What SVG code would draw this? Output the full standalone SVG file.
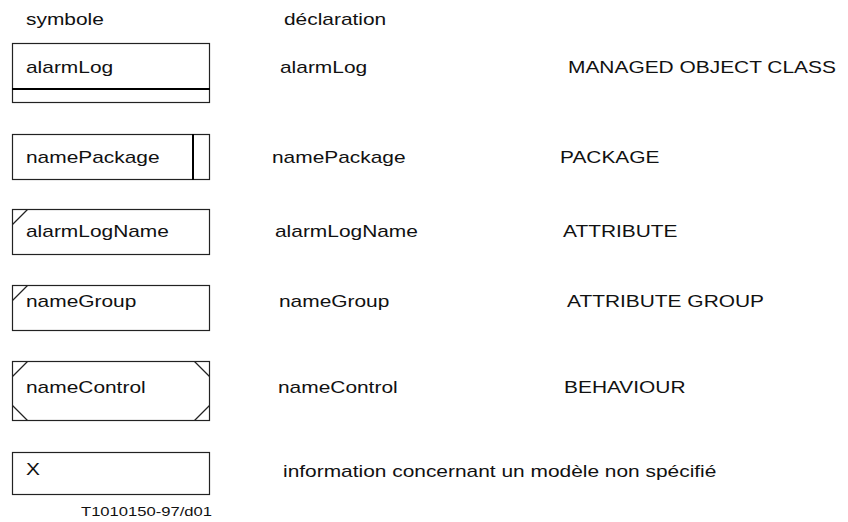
<svg xmlns="http://www.w3.org/2000/svg" width="848" height="522" viewBox="0 0 848 522">
<style>
.b{fill:none;stroke:#222;stroke-width:1.2}
.t{font-family:"Liberation Sans",Arial,sans-serif;font-size:17px;fill:#111}
.s{font-family:"Liberation Sans",Arial,sans-serif;font-size:13.5px;fill:#111}
</style>
<rect width="848" height="522" fill="#fff"/>
<g id="headers">
<text class="t" transform="translate(26,25) scale(1.23,1)">symbole</text>
<text class="t" transform="translate(284,25) scale(1.23,1)">déclaration</text>
</g>
<g id="alarmLog">
<rect class="b" x="12.5" y="43.5" width="197" height="59"/>
<line x1="12" y1="89" x2="210" y2="89" stroke="#000" stroke-width="2"/>
<text class="t" transform="translate(26,73) scale(1.23,1)">alarmLog</text>
<text class="t" transform="translate(280,73) scale(1.23,1)">alarmLog</text>
<text class="t" transform="translate(568,73) scale(1.23,1)">MANAGED OBJECT CLASS</text>
</g>
<g id="namePackage">
<rect class="b" x="12.5" y="134.5" width="197" height="45"/>
<line x1="193" y1="134" x2="193" y2="180" stroke="#000" stroke-width="2"/>
<text class="t" transform="translate(26,163) scale(1.23,1)">namePackage</text>
<text class="t" transform="translate(272,163) scale(1.23,1)">namePackage</text>
<text class="t" transform="translate(560,163) scale(1.23,1)">PACKAGE</text>
</g>
<g id="alarmLogName">
<rect class="b" x="12.5" y="209.5" width="197" height="45"/>
<line class="b" x1="12.5" y1="224.5" x2="27.5" y2="209.5"/>
<text class="t" transform="translate(26,237) scale(1.23,1)">alarmLogName</text>
<text class="t" transform="translate(275,237) scale(1.23,1)">alarmLogName</text>
<text class="t" transform="translate(563,237) scale(1.23,1)">ATTRIBUTE</text>
</g>
<g id="nameGroup">
<rect class="b" x="12.5" y="285.5" width="197" height="45"/>
<line class="b" x1="12.5" y1="300.5" x2="27.5" y2="285.5"/>
<text class="t" transform="translate(26,307) scale(1.23,1)">nameGroup</text>
<text class="t" transform="translate(279,307) scale(1.23,1)">nameGroup</text>
<text class="t" transform="translate(567,307) scale(1.23,1)">ATTRIBUTE GROUP</text>
</g>
<g id="nameControl">
<rect class="b" x="12.5" y="361.5" width="197" height="59"/>
<line class="b" x1="12.5" y1="376.5" x2="27.5" y2="361.5"/>
<line class="b" x1="194.5" y1="361.5" x2="209.5" y2="376.5"/>
<line class="b" x1="12.5" y1="405.5" x2="27.5" y2="420.5"/>
<line class="b" x1="194.5" y1="420.5" x2="209.5" y2="405.5"/>
<text class="t" transform="translate(26,393) scale(1.23,1)">nameControl</text>
<text class="t" transform="translate(278,393) scale(1.23,1)">nameControl</text>
<text class="t" transform="translate(564,393) scale(1.23,1)">BEHAVIOUR</text>
</g>
<g id="X">
<rect class="b" x="12.5" y="452.5" width="197" height="42"/>
<text class="t" transform="translate(26,475) scale(1.23,1)">X</text>
<text class="t" transform="translate(283,477) scale(1.23,1)">information concernant un modèle non spécifié</text>
</g>
<g id="caption">
<text class="s" transform="translate(81,516) scale(1.23,1)">T1010150-97/d01</text>
</g>
<g id="connectors"/>
</svg>
